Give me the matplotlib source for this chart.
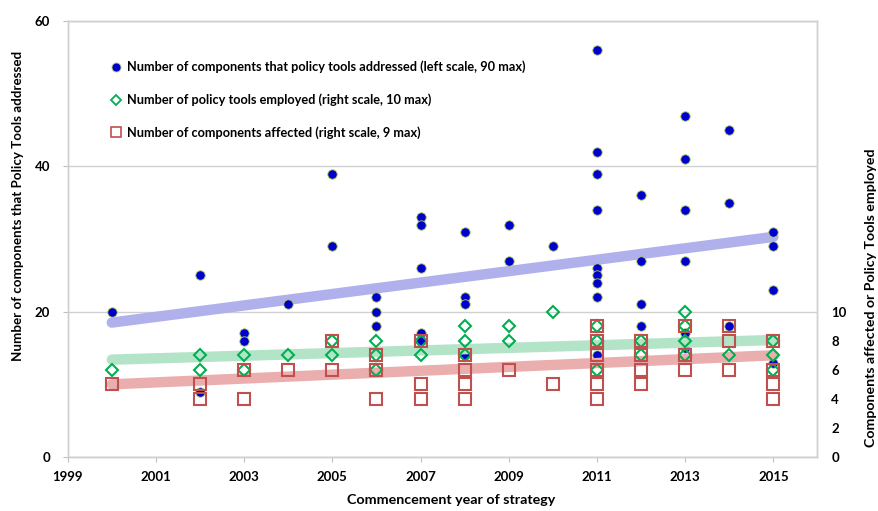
"""
Policy tools per strategy: components addressed, tools employed and
components affected, by commencement year.
"""

import matplotlib
matplotlib.use("Agg")
import matplotlib.pyplot as plt
from matplotlib.lines import Line2D

# components that policy tools addressed (left scale)
addressed_years = [2000, 2002, 2002, 2003, 2003, 2004, 2005, 2005,
                   2006, 2006, 2006, 2007, 2007, 2007, 2007, 2007,
                   2008, 2008, 2008, 2008, 2009, 2009, 2010,
                   2011, 2011, 2011, 2011, 2011, 2011, 2011, 2011, 2011,
                   2012, 2012, 2012, 2012, 2013, 2013, 2013, 2013, 2013, 2013,
                   2014, 2014, 2014, 2015, 2015, 2015, 2015, 2015]
addressed = [20, 25, 9, 17, 16, 21, 39, 29,
             22, 20, 18, 33, 32, 26, 17, 16,
             31, 22, 21, 14, 32, 27, 29,
             56, 42, 39, 34, 26, 25, 24, 22, 14,
             36, 27, 21, 18, 47, 41, 34, 27, 17, 15,
             45, 35, 18, 31, 29, 23, 14, 13]

# policy tools employed (right scale)
tools_years = [2000, 2002, 2002, 2003, 2003, 2004, 2005, 2005,
               2006, 2006, 2006, 2007, 2007, 2008, 2008, 2008,
               2009, 2009, 2010, 2011, 2011, 2011, 2012, 2012,
               2013, 2013, 2013, 2013, 2014, 2015, 2015, 2015]
tools = [6, 7, 6, 7, 6, 7, 8, 7,
         8, 7, 6, 8, 7, 9, 8, 7,
         9, 8, 10, 9, 8, 6, 8, 7,
         10, 9, 8, 7, 7, 8, 7, 6]

# components affected (right scale)
affected_years = [2000, 2002, 2002, 2003, 2003, 2004, 2005, 2005,
                  2006, 2006, 2006, 2007, 2007, 2007,
                  2008, 2008, 2008, 2008, 2009, 2010,
                  2011, 2011, 2011, 2011, 2011, 2011,
                  2012, 2012, 2012, 2012, 2013, 2013, 2013,
                  2014, 2014, 2014, 2015, 2015, 2015, 2015]
affected = [5, 5, 4, 6, 4, 6, 8, 6,
            7, 6, 4, 8, 5, 4,
            7, 6, 5, 4, 6, 5,
            9, 8, 7, 6, 5, 4,
            8, 7, 6, 5, 9, 7, 6,
            9, 8, 6, 8, 6, 5, 4]

# linear trends, start and end of range
trend_years = [2000, 2015]
addressed_trend = [18.5, 30.3]
tools_trend = [6.7, 8.05]
affected_trend = [5.0, 7.0]

x_ticks = list(range(1999, 2016, 2))
left_ticks = [0, 20, 40, 60]
right_ticks = [0, 2, 4, 6, 8, 10]

legend_labels = [
    "Number of components that policy tools addressed (left scale, 90 max)",
    "Number of policy tools employed (right scale, 10 max)",
    "Number of components affected (right scale, 9 max)",
]

BLUE = "#0000cc"
GREEN = "#00b050"
RED = "#c0504d"
GRID = "#d0d0d0"

plt.rcParams["font.family"] = ["Lato", "DejaVu Sans"]
plt.rcParams["font.weight"] = "bold"

fig = plt.figure(figsize=(8.79, 5.11), dpi=100)
ax = fig.add_axes([0.077, 0.1057, 0.853, 0.853])
ax2 = ax.twinx()

# trend bands go underneath everything
ax.plot(trend_years, addressed_trend, color="#b0b0ec", lw=7.5,
        solid_capstyle="round", zorder=1)
ax2.plot(trend_years, tools_trend, color="#b3e4c8", lw=7.5,
         solid_capstyle="round", zorder=1)
ax2.plot(trend_years, affected_trend, color="#ebaeae", lw=7.5,
         solid_capstyle="round", zorder=1)

ax.plot(addressed_years, addressed, "o", ms=6.8, mfc=BLUE,
        mec="#b5d35a", mew=0.6, zorder=3)
ax2.plot(tools_years, tools, "D", ms=6, mfc="none", mec=GREEN,
         mew=1.5, zorder=4)
ax2.plot(affected_years, affected, "s", ms=8.5, mfc="none", mec=RED,
         mew=1.5, zorder=5)

ax.set_zorder(ax2.get_zorder() - 1)
ax.patch.set_visible(False)

ax.set_xlim(1999, 2016)
ax.set_ylim(0, 60)
ax2.set_ylim(0, 30)
ax.set_xticks(x_ticks)
ax.set_yticks(left_ticks)
ax2.set_yticks(right_ticks)

ax.yaxis.grid(True, color=GRID, lw=1)
ax.set_axisbelow(True)
for spine in list(ax.spines.values()) + list(ax2.spines.values()):
    spine.set_color(GRID)
    spine.set_linewidth(1)

ax.tick_params(axis="both", labelsize=9.5, color="#bfbfbf", length=3.6)
ax.tick_params(axis="y", pad=9)
ax.tick_params(axis="x", pad=6.5)
ax2.tick_params(axis="y", labelsize=9.5, length=0, pad=10)

ax.set_xlabel("Commencement year of strategy", fontsize=10.3,
              fontweight="bold")
ax.xaxis.set_label_coords(0.511, -0.085)
ax.set_ylabel("Number of components that Policy Tools addressed",
              fontsize=9.6, fontweight="bold")
ax.yaxis.set_label_coords(-0.058, 0.576)
ax2.set_ylabel("Components affected or Policy Tools employed",
               fontsize=10.2, fontweight="bold")
ax2.yaxis.set_label_coords(1.064, 0.366)

handles = [
    Line2D([], [], ls="none", marker="o", ms=6.5, mfc=BLUE, mec="#b5d35a",
           mew=0.6),
    Line2D([], [], ls="none", marker="D", ms=5.5, mfc="none", mec=GREEN,
           mew=1.3),
    Line2D([], [], ls="none", marker="s", ms=7, mfc="none", mec=RED,
           mew=1.2),
]
ax2.legend(handles, legend_labels, loc="upper left",
           bbox_to_anchor=(0.0503, 0.921), frameon=False, fontsize=9.2,
           handlelength=0.8, handletextpad=0.5, labelspacing=1.58,
           borderaxespad=0)

fig.savefig("out.png", dpi=100)
plt.close(fig)
